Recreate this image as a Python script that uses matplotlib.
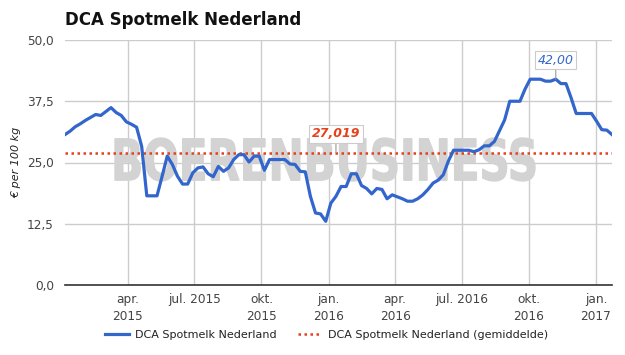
import pandas as pd
import matplotlib
matplotlib.use('Agg')
import matplotlib.pyplot as plt
from matplotlib.textpath import TextPath
from matplotlib.patches import PathPatch
from matplotlib.font_manager import FontProperties
from matplotlib.transforms import Affine2D

# weekly spot milk price, euro per 100 kg
start = '2015-01-05'
prices = [30.7, 31.4, 32.3, 32.9, 33.6, 34.2, 34.8, 34.6, 35.4, 36.2,
          35.2, 34.6, 33.3, 32.8, 32.2, 28.3, 18.2, 18.2, 18.2, 22.2,
          26.3, 24.6, 22.2, 20.6, 20.6, 22.9, 23.9, 24.1, 22.7, 22.1,
          24.2, 23.2, 23.9, 25.6, 26.6, 26.6, 25.1, 26.3, 26.3, 23.4,
          25.6, 25.6, 25.6, 25.6, 24.7, 24.6, 23.2, 23.1, 18.1, 14.7,
          14.5, 13.0, 16.7, 18.1, 20.1, 20.1, 22.7, 22.7, 20.3, 19.7,
          18.6, 19.7, 19.5, 17.6, 18.4, 18.0, 17.6, 17.1, 17.1, 17.6,
          18.4, 19.5, 20.8, 21.4, 22.5, 25.3, 27.5, 27.5, 27.5, 27.5,
          27.2, 27.6, 28.4, 28.4, 29.3, 31.5, 33.7, 37.5, 37.5, 37.5,
          40.0, 42.0, 42.0, 42.0, 41.6, 41.6, 42.0, 41.1, 41.1, 38.2,
          35.0, 35.0, 35.0, 35.0, 33.4, 31.7, 31.6, 30.7]
gemiddelde = 27.019

tick_dates = ['2015-04-01', '2015-07-01', '2015-10-01', '2016-01-01',
              '2016-04-01', '2016-07-01', '2016-10-01', '2017-01-01']
tick_labels = ['apr.\n2015', 'jul. 2015', 'okt.\n2015', 'jan.\n2016',
               'apr.\n2016', 'jul. 2016', 'okt.\n2016', 'jan.\n2017']
y_ticks = [0, 12.5, 25, 37.5, 50]

dates = pd.date_range(start, periods=len(prices), freq='7D')
blue = '#3366cc'
red = '#e5411b'

fig = plt.figure(figsize=(6.25, 3.55), dpi=100)
ax = fig.add_axes([65/625, 1-285/355, 547/625, 245/355])

ax.plot(dates, prices, color=blue, lw=2.3, zorder=3, label='DCA Spotmelk Nederland',
        solid_joinstyle='round')
ax.axhline(gemiddelde, color=red, lw=1.8, ls=(0, (1, 1.4)), zorder=2,
           label='DCA Spotmelk Nederland (gemiddelde)')

# watermark, squeezed into its box
tp = TextPath((0, 0), 'BOERENBUSINESS', size=1,
              prop=FontProperties(family='DejaVu Sans', weight='bold'))
bb = tp.get_extents()
x0, x1 = 115/625, 535/625
y0, y1 = 1-181/355, 1-138/355
tr = Affine2D().translate(-bb.x0, -bb.y0).scale((x1-x0)/bb.width, (y1-y0)/bb.height).translate(x0, y0)
wm = PathPatch(tr.transform_path(tp), facecolor='#d3d3d3', edgecolor='#d3d3d3', lw=1,
               transform=fig.transFigure, zorder=1)
ax.add_artist(wm)

ax.set_xlim(dates[0], dates[-1])
ax.set_ylim(0, 50)
ax.set_yticks(y_ticks)
ax.set_yticklabels([f'{v:.1f}'.replace('.', ',') for v in y_ticks])
ax.set_xticks(pd.to_datetime(tick_dates))
ax.set_xticklabels(tick_labels, va='top', ha='center', linespacing=1.35)
ax.tick_params(length=0, colors='#444444', labelsize=8.7)
ax.tick_params(axis='y', pad=8)
ax.tick_params(axis='x', pad=6)
ax.set_axisbelow(True)
ax.grid(True, color='#cccccc', lw=1)
for s in ['top', 'right', 'left']:
    ax.spines[s].set_visible(False)
ax.spines['bottom'].set_color('#333333')
ax.spines['bottom'].set_linewidth(1.2)
ax.spines['bottom'].set_zorder(4)

ax.set_ylabel('€ per 100 kg', style='italic', fontsize=8, color='#222222', labelpad=4)

bbox = dict(boxstyle='square,pad=0.2', fc='white', ec='#cccccc', lw=0.8)
ax.annotate('27,019', xy=(pd.Timestamp('2016-01-11'), gemiddelde), xytext=(0, 13.5),
            textcoords='offset points', ha='center', va='center', color=red,
            fontsize=9, fontweight='bold', style='italic', bbox=bbox, zorder=5,
            arrowprops=dict(arrowstyle='-', color='#999999', lw=0.8, shrinkA=0, shrinkB=0))
imax = len(prices) - 1 - prices[::-1].index(max(prices))
ax.annotate(f'{prices[imax]:.2f}'.replace('.', ','), xy=(dates[imax], prices[imax]),
            xytext=(0, 13.5), textcoords='offset points', ha='center', va='center',
            color=blue, fontsize=9, style='italic', bbox=bbox, zorder=5,
            arrowprops=dict(arrowstyle='-', color='#999999', lw=0.8, shrinkA=0, shrinkB=0))

fig.text(65/625, 1-20/355, 'DCA Spotmelk Nederland', fontsize=12, fontweight='bold',
         va='center', ha='left', color='#111111')

fig.legend(loc='center', bbox_to_anchor=(0.522, 1-335/355), ncol=2, frameon=False,
           fontsize=8, handlelength=2.16, handletextpad=0.54, columnspacing=1.9,
           labelcolor='#222222')

fig.savefig('out.png', dpi=100)
